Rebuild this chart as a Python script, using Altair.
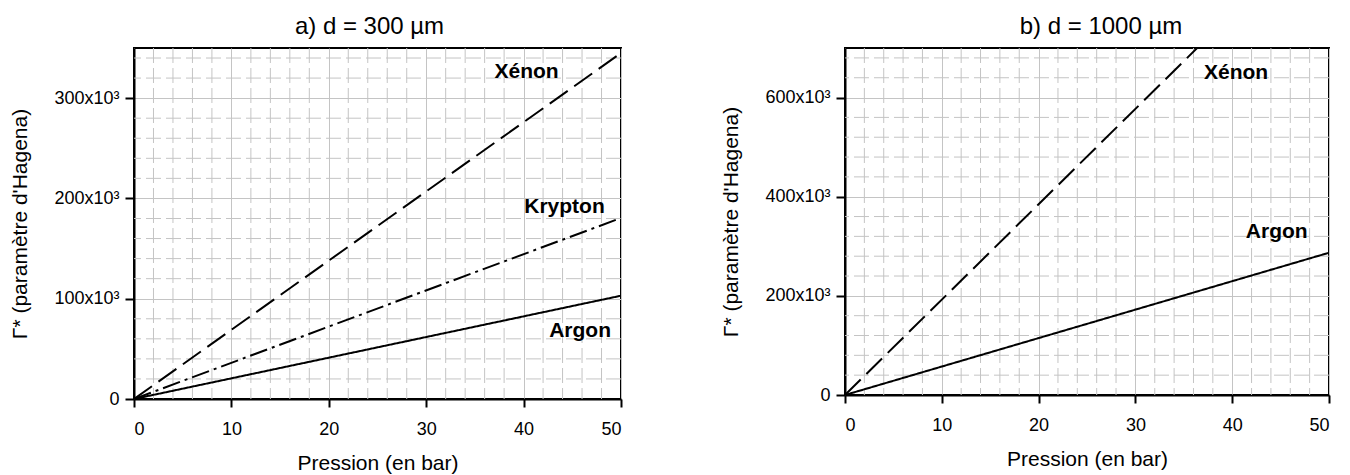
import altair as alt
import pandas as pd

FONT = "Liberation Sans"
GRID = "#c4c4c4"

# ---- data ----
pression = [0, 50]

# panel a) d = 300 µm
argon_a = [0, 103000]
krypton_a = [0, 180500]
xenon_a = [0, 345000]
lab_a_text = ["Xénon", "Krypton", "Argon"]
lab_a_x = [40.3, 44.2, 45.8]
lab_a_y = [325600, 191700, 68000]

# panel b) d = 1000 µm
argon_b = [0, 287000]
xenon_b = [0, 962000]
lab_b_text = ["Xénon", "Argon"]
lab_b_x = [40.4, 44.6]
lab_b_y = [649000, 329600]

# axis ticks / grid
x_major = [0, 10, 20, 30, 40, 50]
x_minor = [2, 4, 6, 8, 12, 14, 16, 18, 22, 24, 26, 28, 32, 34, 36, 38, 42, 44, 46, 48]
y_a_major = [0, 100000, 200000, 300000]
y_a_minor = [20000, 40000, 60000, 80000, 120000, 140000, 160000, 180000,
             220000, 240000, 260000, 280000, 320000, 340000]
y_b_major = [0, 200000, 400000, 600000]
y_b_minor = [40000, 80000, 120000, 160000, 240000, 280000, 320000, 360000,
             440000, 480000, 520000, 560000, 640000, 680000]

DASH = {"Argon": [1, 0], "Krypton": [18, 5, 3, 5], "Xénon": [22, 8]}

LABEL_EXPR = "datum.value == 0 ? '0' : format(datum.value / 1000, 'd') + 'x10\u00b3'"


def panel(title, dx, w, h, ymax, y_major, y_minor, series, labels):
    xs = alt.Scale(domain=[0, 50], nice=False, zero=False)
    ys = alt.Scale(domain=[0, ymax], nice=False)

    x_axis = alt.Axis(values=x_major, grid=True, gridColor=GRID, gridWidth=1,
                      tickSize=8, tickWidth=2, tickColor="black",
                      domainColor="black", domainWidth=2,
                      labelFont=FONT, labelFontSize=18, labelColor="black",
                      labelPadding=13, format="d",
                      title="Pression (en bar)", titleFont=FONT, titleFontSize=21,
                      titleFontWeight="normal", titleColor="black",
                      titleY=70, titleBaseline="alphabetic")
    y_axis = alt.Axis(values=y_major, grid=True, gridColor=GRID, gridWidth=1,
                      tickSize=9, tickWidth=2, tickColor="black",
                      domainColor="black", domainWidth=2,
                      labelFont=FONT, labelFontSize=18, labelColor="black",
                      labelPadding=6, labelExpr=LABEL_EXPR,
                      title="\u0393* (paramètre d'Hagena)", titleFont=FONT, titleFontSize=21,
                      titleFontWeight="normal", titleColor="black",
                      titleX=-104, titleBaseline="bottom")

    X = lambda: alt.X("pression:Q", scale=xs, axis=x_axis, title="Pression (en bar)")
    Y = lambda: alt.Y("gamma:Q", scale=ys, axis=y_axis, title="\u0393* (paramètre d'Hagena)")

    minor_v = alt.Chart(pd.DataFrame({"pression": x_minor})).mark_rule(
        color=GRID, strokeWidth=1, strokeDash=[15, 5]
    ).encode(x=X())
    minor_h = alt.Chart(pd.DataFrame({"gamma": y_minor})).mark_rule(
        color=GRID, strokeWidth=1, strokeDash=[15, 5]
    ).encode(y=Y())

    layers = [minor_v, minor_h]
    for gas, vals in series:
        df = pd.DataFrame({"pression": pression, "gamma": vals})
        layers.append(
            alt.Chart(df).mark_line(color="black", strokeWidth=2, strokeDash=DASH[gas], clip=True).encode(
                x=X(), y=Y()
            )
        )

    txt, lx, ly = labels
    ldf = pd.DataFrame({"txt": txt, "pression": lx, "gamma": ly})
    layers.append(
        alt.Chart(ldf).mark_text(font=FONT, fontSize=21, fontWeight="bold", color="black",
                                 align="center", baseline="middle").encode(
            x=X(), y=Y(), text="txt:N",
        )
    )

    return alt.layer(*layers).properties(
        width=w, height=h,
        title=alt.TitleParams(title, font=FONT, fontSize=24, fontWeight="normal", color="black",
                              anchor="middle", dx=dx, offset=-10, baseline="alphabetic"),
    )


a = panel("a) d = 300 µm", -8, 487, 351, 350000, y_a_major, y_a_minor,
          [("Argon", argon_a), ("Krypton", krypton_a), ("Xénon", xenon_a)],
          (lab_a_text, lab_a_x, lab_a_y))
b = panel("b) d = 1000 µm", 14, 484, 347, 700000, y_b_major, y_b_minor,
          [("Argon", argon_b), ("Xénon", xenon_b)],
          (lab_b_text, lab_b_x, lab_b_y))

chart = alt.hconcat(a, b, spacing=224, bounds="flush").properties(
    padding={"left": 0, "top": 5, "right": 0, "bottom": 0}
).configure(background="white").configure_view(stroke="black", strokeWidth=2)

chart.save("out.html", embed_options={"renderer": "svg", "actions": False})
